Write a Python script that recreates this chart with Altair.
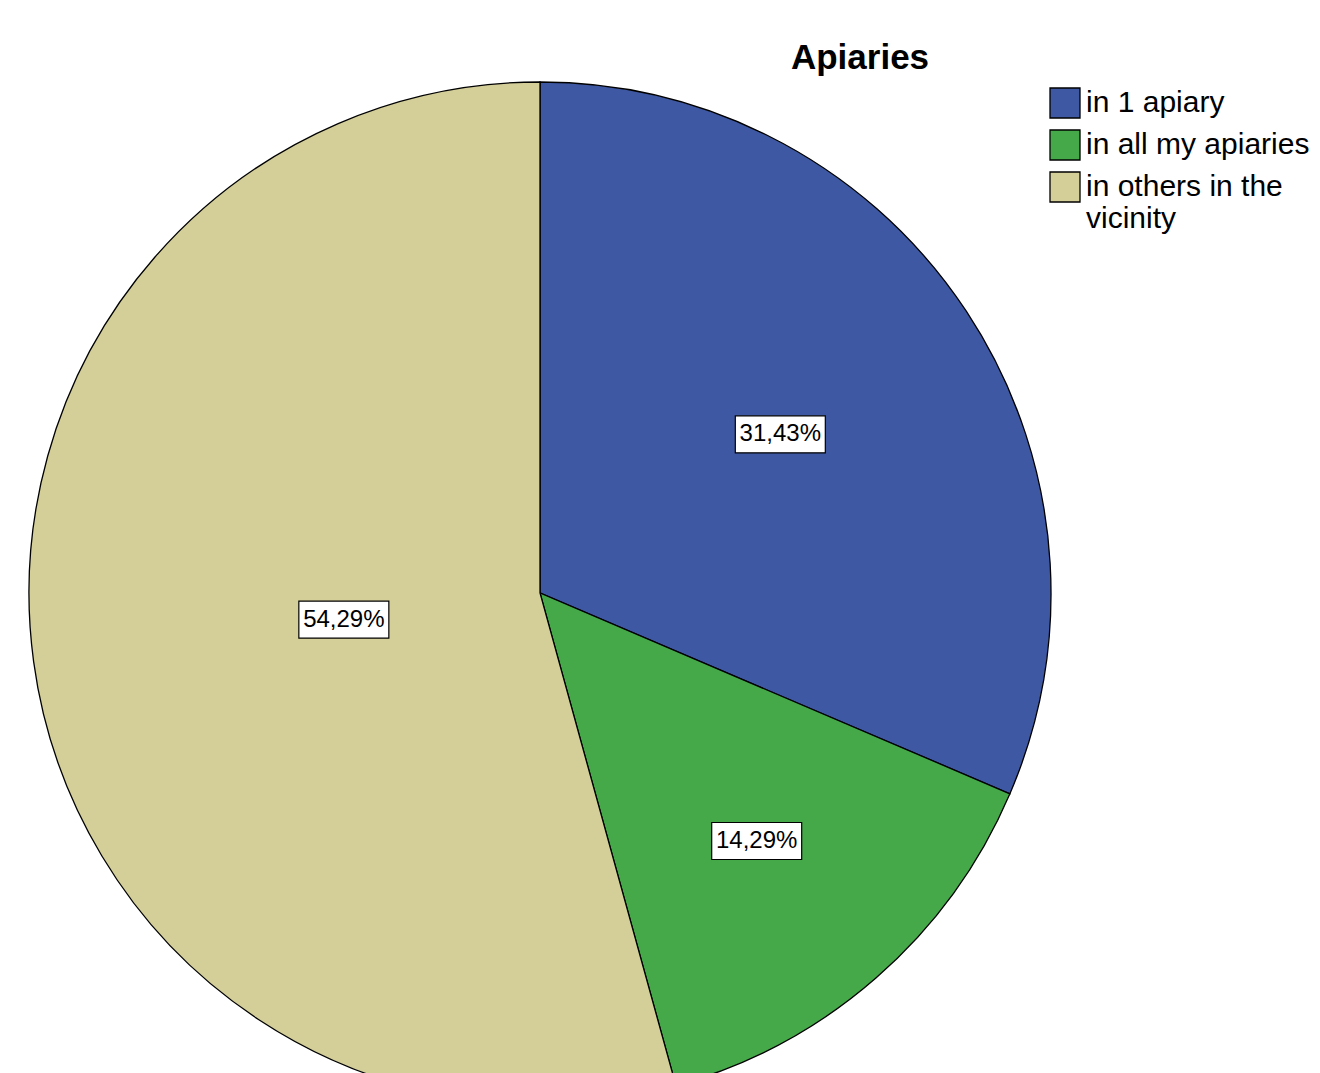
import altair as alt
import pandas as pd

categories = ["in 1 apiary", "in all my apiaries", "in others in the vicinity"]
percents = [31.43, 14.29, 54.29]
slice_order = [0, 1, 2]
colors = ["#3E58A3", "#45A94A", "#D4CF98"]
title_text = "Apiaries"

df = pd.DataFrame({"category": categories, "percent": percents, "order": slice_order})

W, H = 1304, 1080
CX, CY, R = 532, 585, 511
FONT = "Liberation Sans"

base = alt.Chart(df)

pie = base.mark_arc(radius=R, stroke="black", strokeWidth=1.3).encode(
    theta=alt.Theta("percent:Q", stack=True),
    order=alt.Order("order:Q"),
    color=alt.Color(
        "category:N",
        scale=alt.Scale(domain=categories, range=colors),
        legend=alt.Legend(
            orient="none", legendX=1041, legendY=79, title=None,
            symbolType="square", symbolSize=900, symbolStrokeColor="black",
            symbolStrokeWidth=1.3, symbolOpacity=1,
            labelFontSize=30, labelFont=FONT, labelColor="black",
            labelOffset=5, rowPadding=6, labelLimit=500, padding=0,
            labelExpr="datum.label == 'in others in the vicinity' ? ['in others in the', 'vicinity'] : datum.label",
        ),
    ),
    x=alt.value(CX),
    y=alt.value(CY),
)

labels = (
    base.transform_joinaggregate(total="sum(percent)")
    .transform_window(cum="sum(percent)", sort=[alt.SortField("order")], frame=[None, 0])
    .transform_calculate(
        half="datum.percent / datum.total * PI",
        mid="(datum.cum - datum.percent / 2) / datum.total * 2 * PI",
    )
    .transform_calculate(rr=f"2 * {R} * sin(datum.half) / (3 * datum.half)")
    .transform_calculate(
        lx=f"{CX} + datum.rr * sin(datum.mid)",
        ly=f"{CY} - datum.rr * cos(datum.mid)",
        lab="replace(format(datum.percent, '.2f'), '.', ',') + '%'",
    )
)

boxes = labels.mark_rect(width=90, height=37, fill="white", stroke="black", strokeWidth=1.2).encode(
    x=alt.X("lx:Q", scale=None), y=alt.Y("ly:Q", scale=None)
)
texts = labels.mark_text(font=FONT, fontSize=24, color="black", align="center", baseline="middle").encode(
    x=alt.X("lx:Q", scale=None), y=alt.Y("ly:Q", scale=None), text="lab:N"
)

title = alt.Chart(pd.DataFrame({"t": [title_text]})).mark_text(
    font=FONT, fontSize=35, fontWeight="bold", color="black", align="center", baseline="alphabetic"
).encode(text="t:N", x=alt.value(852), y=alt.value(61))

chart = (
    alt.layer(pie, boxes, texts, title)
    .properties(width=W, height=H, padding=0, autosize=alt.AutoSizeParams(type="none"))
    .configure_view(stroke=None)
)

chart.save("out.html", embed_options={"renderer": "svg", "actions": False})
